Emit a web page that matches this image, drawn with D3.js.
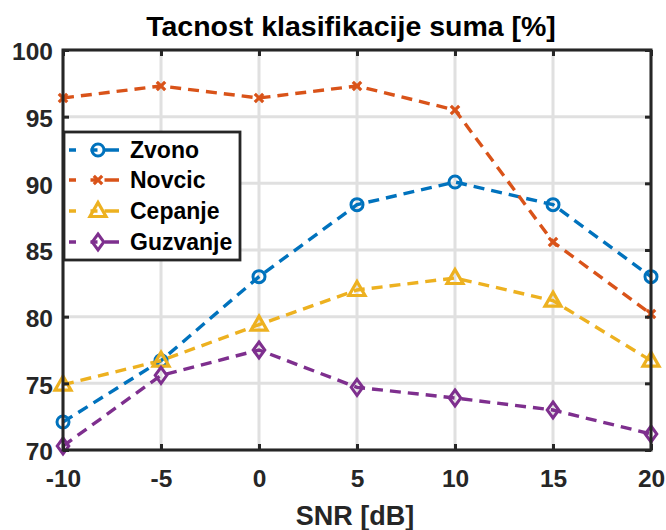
<!DOCTYPE html>
<html>
<head>
<meta charset="utf-8">
<script src="https://cdn.jsdelivr.net/npm/d3@7"></script>
<style>
  html, body { margin: 0; padding: 0; background: #fff; }
  text { font-family: "Liberation Sans", Arial, Helvetica, sans-serif; font-weight: bold; }
</style>
</head>
<body>
<svg id="chart" width="666" height="530"></svg>
<script>
const snr = [-10, -5, 0, 5, 10, 15, 20];
const zvono    = [72.1, 76.7, 83.0, 88.4, 90.1, 88.4, 83.0];
const novcic   = [96.4, 97.3, 96.4, 97.3, 95.5, 85.6, 80.2];
const cepanje  = [74.9, 76.7, 79.4, 82.0, 82.9, 81.2, 76.7];
const guzvanje = [70.3, 75.6, 77.5, 74.7, 73.9, 73.0, 71.2];
const seriesNames = ["Zvono", "Novcic", "Cepanje", "Guzvanje"];
const xTicks = [-10, -5, 0, 5, 10, 15, 20];
const yTicks = [70, 75, 80, 85, 90, 95, 100];
const titleText = "Tacnost klasifikacije suma [%]";
const xLabelText = "SNR [dB]";

const colors = ["#0072BD", "#D95319", "#EDB120", "#7E2F8E"];
const markers = ["circle", "x", "triangle", "diamond"];
const seriesValues = [zvono, novcic, cepanje, guzvanje];

const svg = d3.select("#chart");
const L = 63, R = 651, T = 50, B = 450;
const x = d3.scaleLinear().domain([-10, 20]).range([L, R]);
const y = d3.scaleLinear().domain([70, 100]).range([B, T]);
const axisColor = "#262626";

// grid
const grid = svg.append("g");
grid.selectAll("line.gx").data(xTicks).join("line")
  .attr("x1", d => x(d)).attr("x2", d => x(d)).attr("y1", T).attr("y2", B)
  .attr("stroke", "#e0e0e0").attr("stroke-width", 3);
grid.selectAll("line.gy").data(yTicks).join("line")
  .attr("y1", d => y(d)).attr("y2", d => y(d)).attr("x1", L).attr("x2", R)
  .attr("stroke", "#e0e0e0").attr("stroke-width", 3);

// series lines
const line = d3.line().x((d, i) => x(snr[i])).y(d => y(d));
seriesValues.forEach((vals, k) => {
  svg.append("path").datum(vals).attr("d", line)
    .attr("fill", "none").attr("stroke", colors[k]).attr("stroke-width", 3.4)
    .attr("stroke-dasharray", "11,7");
});

function drawMarker(g, type, cx, cy, color) {
  if (type === "circle") {
    g.append("circle").attr("cx", cx).attr("cy", cy).attr("r", 6)
      .attr("fill", "none").attr("stroke", color).attr("stroke-width", 3);
  } else if (type === "x") {
    const s = 4.2;
    g.append("path").attr("d", `M${cx-s},${cy-s}L${cx+s},${cy+s}M${cx-s},${cy+s}L${cx+s},${cy-s}`)
      .attr("stroke", color).attr("stroke-width", 3.2).attr("fill", "none");
  } else if (type === "triangle") {
    g.append("path").attr("d", `M${cx},${cy-8.5}L${cx+8},${cy+5.5}L${cx-8},${cy+5.5}Z`)
      .attr("fill", "none").attr("stroke", color).attr("stroke-width", 3.2).attr("stroke-linejoin", "miter");
  } else if (type === "diamond") {
    g.append("path").attr("d", `M${cx},${cy-8}L${cx+5.8},${cy}L${cx},${cy+8}L${cx-5.8},${cy}Z`)
      .attr("fill", "none").attr("stroke", color).attr("stroke-width", 3);
  }
}

seriesValues.forEach((vals, k) => {
  const g = svg.append("g");
  vals.forEach((v, i) => drawMarker(g, markers[k], x(snr[i]), y(v), colors[k]));
});

// axes box
const box = svg.append("g");
box.append("rect").attr("x", L).attr("y", T).attr("width", R - L).attr("height", B - T)
  .attr("fill", "none").attr("stroke", axisColor).attr("stroke-width", 3);

const tl = 6;
const fmt = d => String(d);
const xAxisB = d3.axisBottom(x).tickValues(xTicks).tickFormat(fmt).tickSizeInner(-tl).tickSizeOuter(0).tickPadding(20);
const gxB = svg.append("g").attr("transform", `translate(0,${B})`).call(xAxisB);
const xAxisT = d3.axisTop(x).tickValues(xTicks).tickSizeInner(-tl).tickSizeOuter(0).tickFormat("");
const gxT = svg.append("g").attr("transform", `translate(0,${T})`).call(xAxisT);
const yAxisL = d3.axisLeft(y).tickValues(yTicks).tickFormat(fmt).tickSizeInner(-tl).tickSizeOuter(0).tickPadding(10);
const gyL = svg.append("g").attr("transform", `translate(${L},0)`).call(yAxisL);
const yAxisR = d3.axisRight(y).tickValues(yTicks).tickSizeInner(-tl).tickSizeOuter(0).tickFormat("");
const gyR = svg.append("g").attr("transform", `translate(${R},0)`).call(yAxisR);
[gxB, gxT, gyL, gyR].forEach(g => {
  g.select(".domain").remove();
  g.selectAll(".tick line").attr("stroke", axisColor).attr("stroke-width", 3);
  g.selectAll(".tick text").attr("fill", axisColor).style("font-size", "24.5px")
    .style("font-family", '"Liberation Sans", Arial, sans-serif').style("font-weight", "bold");
});
gxB.selectAll(".tick text").attr("dy", "0.71em");
gyL.selectAll(".tick text").attr("dy", "0.4em");

// title
svg.append("text").attr("x", 351).attr("y", 36).attr("text-anchor", "middle")
  .style("font-size", "28.5px").attr("fill", "#000").text(titleText);
// x label
svg.append("text").attr("x", 355).attr("y", 525).attr("text-anchor", "middle")
  .style("font-size", "27px").attr("fill", axisColor).text(xLabelText);

// legend
const lg = svg.append("g");
const lx = 64, ly = 132, lw = 176, lh = 128;
lg.append("rect").attr("x", lx).attr("y", ly).attr("width", lw).attr("height", lh)
  .attr("fill", "#fff").attr("stroke", axisColor).attr("stroke-width", 2.8);
const rowY = [150, 180, 211, 242];
seriesNames.forEach((name, k) => {
  const cy = rowY[k];
  lg.append("line").attr("x1", 69).attr("x2", 126).attr("y1", cy).attr("y2", cy)
    .attr("stroke", colors[k]).attr("stroke-width", 3.4).attr("stroke-dasharray", "7,14.5,7");
  drawMarker(lg, markers[k], 98, cy, colors[k]);
  lg.append("text").attr("x", 130).attr("y", cy).attr("dy", "0.36em")
    .style("font-size", "23px").attr("fill", "#000").text(name);
});
</script>
</body>
</html>
